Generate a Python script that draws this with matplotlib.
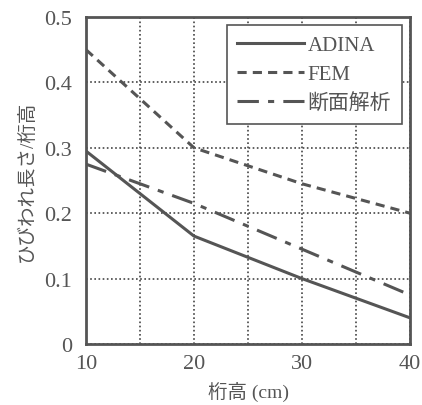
import matplotlib
matplotlib.use("Agg")
import matplotlib.pyplot as plt
from matplotlib.ticker import MultipleLocator

plt.rcParams['font.family'] = ['Liberation Serif', 'Noto Sans CJK JP']

x = [10, 20, 30, 40]
adina = [0.295, 0.165, 0.10, 0.04]
fem = [0.45, 0.30, 0.245, 0.20]
danmen = [0.275, 0.215, 0.145, 0.075]
labels = ['ADINA', 'FEM', '断面解析']
xticks = [10, 20, 30, 40]
yticks = [0, 0.1, 0.2, 0.3, 0.4, 0.5]

c = '#555555'
fig = plt.figure(figsize=(4.22, 4.06), dpi=100)
ax = fig.add_axes([86/422, 1-345/406, (410-86)/422, (345-18)/406])
ax.plot(x, adina, '-', color=c, lw=2.2, label=labels[0])
ax.plot(x, fem, color=c, lw=2.2, dashes=(3, 2), label=labels[1])
ax.plot(x, danmen, color=c, lw=2.2, dashes=(7, 3, 2, 3), label=labels[2])
ax.set_xlim(10, 40)
ax.set_ylim(0, 0.5)
ax.set_xticks(xticks)
ax.set_xticklabels([str(v) for v in xticks])
ax.xaxis.set_minor_locator(MultipleLocator(5))
ax.set_yticks(yticks)
ax.set_yticklabels(['0', '0.1', '0.2', '0.3', '0.4', '0.5'])
ax.grid(True, which='both', axis='x', linestyle=(0, (1, 1.5)), color='#444444', lw=1.2)
ax.grid(True, which='major', axis='y', linestyle=(0, (1, 1.5)), color='#444444', lw=1.2)
ax.tick_params(which='both', length=0, labelsize=16, colors='#555555')
ax.tick_params(axis='y', pad=10)
ax.tick_params(axis='x', pad=7)
for s in ax.spines.values():
    s.set_linewidth(2)
    s.set_color('#555555')
ax.set_xlabel('桁高 (cm)', fontsize=14, color='#555555', labelpad=6)
ax.set_ylabel('ひびわれ長さ/桁高', fontsize=14, color='#555555', labelpad=6)
leg = ax.legend(loc='upper right', fontsize=15, fancybox=False, framealpha=1,
                edgecolor='#555555', handlelength=3.2, labelspacing=0.45,
                borderaxespad=0.4, handletextpad=0.2, borderpad=0.5)
leg.get_frame().set_linewidth(1.2)
for t in leg.get_texts():
    t.set_color('#555555')
fig.savefig('out.png', dpi=100)
